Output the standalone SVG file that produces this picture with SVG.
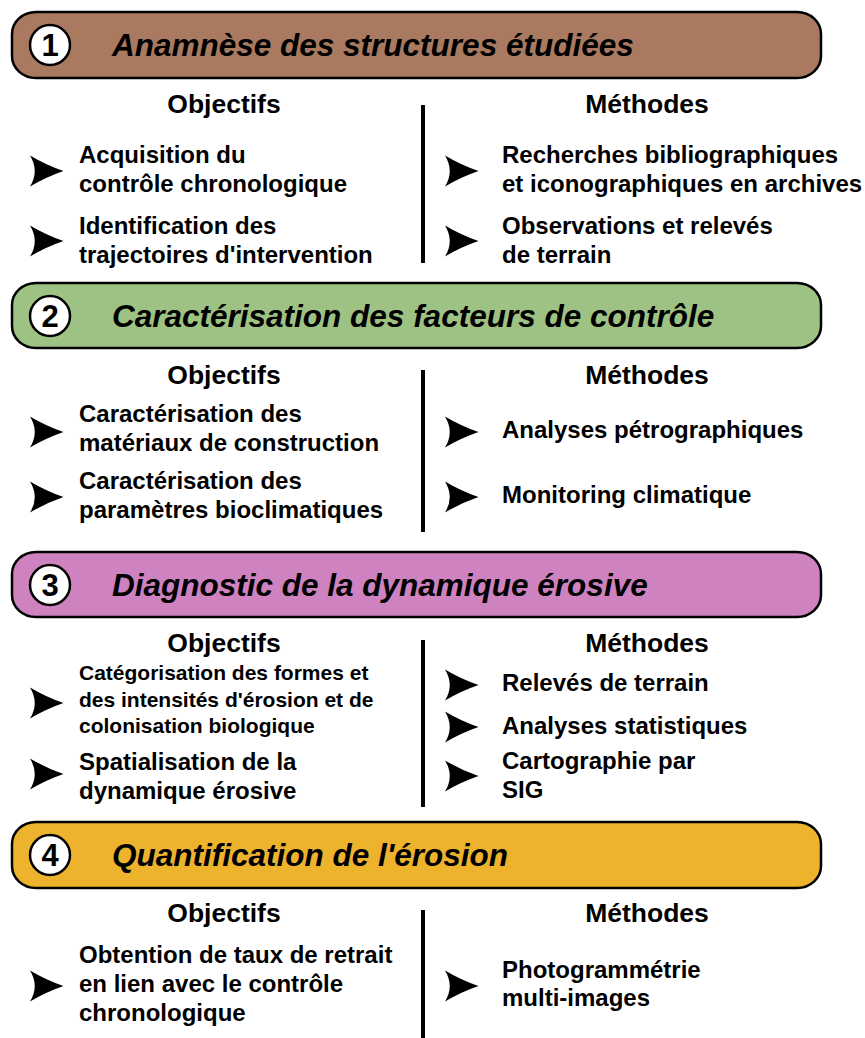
<svg xmlns="http://www.w3.org/2000/svg" width="865" height="1038" viewBox="0 0 865 1038">
<style>
.ban{stroke:#000;stroke-width:2.5}
.num{fill:#fff;stroke:#000;stroke-width:2.5}
.numt{font-family:"Liberation Sans",Arial,sans-serif;font-weight:bold;font-size:31px;text-anchor:middle;fill:#000}
.title{font-family:"Liberation Sans",Arial,sans-serif;font-weight:bold;font-style:italic;font-size:31.5px;fill:#000}
.hd{font-family:"Liberation Sans",Arial,sans-serif;font-weight:bold;font-size:26.5px;text-anchor:middle;fill:#000}
.it{font-family:"Liberation Sans",Arial,sans-serif;font-weight:bold;font-size:24px;fill:#000}
.its{font-family:"Liberation Sans",Arial,sans-serif;font-weight:bold;font-size:21px;fill:#000}
.div{stroke:#000;stroke-width:4}
</style>
<defs>
<path id="arr" d="M0,-15.5 Q16,-6 33.5,0 Q16,6 0,15.5 Q9.5,0 0,-15.5 Z" fill="#000"/>
</defs>

<g id="section1">
<rect class="ban" x="12" y="12" width="809" height="66" rx="24" ry="22" fill="#A97A60"/>
<circle class="num" cx="50" cy="45" r="20"/>
<text class="numt" x="50" y="56">1</text>
<text class="title" x="112" y="56">Anamnèse des structures étudiées</text>
<text class="hd" x="224" y="113">Objectifs</text>
<text class="hd" x="647" y="113">Méthodes</text>
<use href="#arr" x="30" y="171"/>
<text class="it" x="79" y="163">Acquisition du</text>
<text class="it" x="79" y="192">contrôle chronologique</text>
<use href="#arr" x="30" y="241"/>
<text class="it" x="79" y="234">Identification des</text>
<text class="it" x="79" y="263">trajectoires d'intervention</text>
<use href="#arr" x="445" y="171"/>
<text class="it" x="502" y="163">Recherches bibliographiques</text>
<text class="it" x="502" y="192">et iconographiques en archives</text>
<use href="#arr" x="445" y="241"/>
<text class="it" x="502" y="234">Observations et relevés</text>
<text class="it" x="502" y="263">de terrain</text>
</g>

<g id="section2">
<rect class="ban" x="12" y="283" width="809" height="65" rx="24" ry="22" fill="#9EC283"/>
<circle class="num" cx="50" cy="316" r="20"/>
<text class="numt" x="50" y="327">2</text>
<text class="title" x="112" y="327">Caractérisation des facteurs de contrôle</text>
<text class="hd" x="224" y="384">Objectifs</text>
<text class="hd" x="647" y="384">Méthodes</text>
<use href="#arr" x="30" y="432"/>
<text class="it" x="79" y="422">Caractérisation des</text>
<text class="it" x="79" y="451">matériaux de construction</text>
<use href="#arr" x="30" y="497"/>
<text class="it" x="79" y="489">Caractérisation des</text>
<text class="it" x="79" y="518">paramètres bioclimatiques</text>
<use href="#arr" x="445" y="432"/>
<text class="it" x="502" y="438">Analyses pétrographiques</text>
<use href="#arr" x="445" y="497"/>
<text class="it" x="502" y="503">Monitoring climatique</text>
</g>

<g id="section3">
<rect class="ban" x="12" y="552" width="809" height="65" rx="24" ry="22" fill="#CE82BF"/>
<circle class="num" cx="50" cy="585" r="20"/>
<text class="numt" x="50" y="596">3</text>
<text class="title" x="112" y="596">Diagnostic de la dynamique érosive</text>
<text class="hd" x="224" y="652">Objectifs</text>
<text class="hd" x="647" y="652">Méthodes</text>
<use href="#arr" x="30" y="703"/>
<text class="its" x="79" y="680">Catégorisation des formes et</text>
<text class="its" x="79" y="707">des intensités d'érosion et de</text>
<text class="its" x="79" y="733">colonisation biologique</text>
<use href="#arr" x="30" y="774"/>
<text class="it" x="79" y="770">Spatialisation de la</text>
<text class="it" x="79" y="799">dynamique érosive</text>
<use href="#arr" x="445" y="685"/>
<text class="it" x="502" y="691">Relevés de terrain</text>
<use href="#arr" x="445" y="727"/>
<text class="it" x="502" y="734">Analyses statistiques</text>
<use href="#arr" x="445" y="776"/>
<text class="it" x="502" y="769">Cartographie par</text>
<text class="it" x="502" y="798">SIG</text>
</g>

<g id="section4">
<rect class="ban" x="12" y="822" width="809" height="66" rx="24" ry="22" fill="#EDB32D"/>
<circle class="num" cx="50" cy="855" r="20"/>
<text class="numt" x="50" y="866">4</text>
<text class="title" x="112" y="866">Quantification de l'érosion</text>
<text class="hd" x="224" y="922">Objectifs</text>
<text class="hd" x="647" y="922">Méthodes</text>
<use href="#arr" x="30" y="986"/>
<text class="it" x="79" y="963">Obtention de taux de retrait</text>
<text class="it" x="79" y="992">en lien avec le contrôle</text>
<text class="it" x="79" y="1021">chronologique</text>
<use href="#arr" x="445" y="986"/>
<text class="it" x="502" y="978">Photogrammétrie</text>
<text class="it" x="502" y="1006">multi-images</text>
</g>

<g id="connectors">
<line class="div" x1="423" y1="105" x2="423" y2="263"/>
<line class="div" x1="423" y1="370" x2="423" y2="532"/>
<line class="div" x1="423" y1="640" x2="423" y2="807"/>
<line class="div" x1="423" y1="910" x2="423" y2="1038"/>
</g>
</svg>
